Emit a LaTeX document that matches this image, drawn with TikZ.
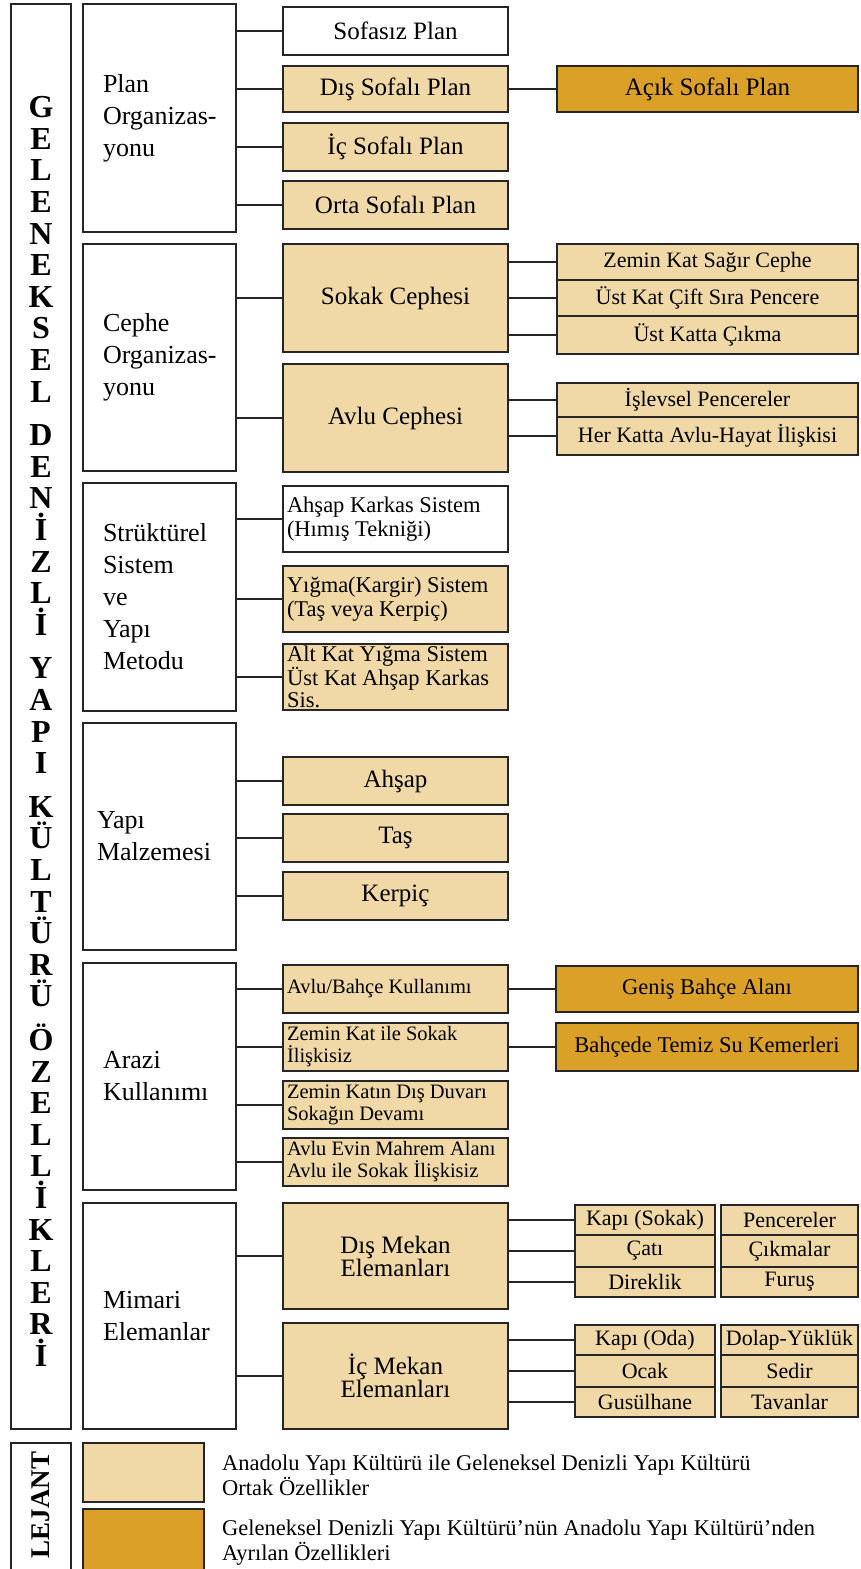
\documentclass[tikz,border=0pt]{standalone}
\usepackage{fontspec}
\setmainfont{Liberation Serif}
\definecolor{beige}{HTML}{F0D9A7}
\definecolor{gold}{HTML}{DAA028}
\definecolor{edge}{HTML}{262626}
\hyphenpenalty=10000
\exhyphenpenalty=10000
\newcommand\bx[7]{%
  \pgfmathsetmacro\bxcx{(#2+#4)/2}%
  \pgfmathsetmacro\bxcy{(#3+#5)/2}%
  \pgfmathsetmacro\bxw{#4-#2}%
  \pgfmathsetmacro\bxh{#5-#3}%
  \node[#6, minimum width=\bxw pt, minimum height=\bxh pt] (#1) at (\bxcx,\bxcy) {#7};}
\begin{document}
\begin{tikzpicture}[x=1pt,y=-1pt,
  box/.style={draw=edge, line width=1.8pt, inner sep=0pt, outer sep=0pt},
  lt/.style={box, fill=beige},
  dk/.style={box, fill=gold},
  wt/.style={box, fill=white},
  link/.style={draw=edge, line width=2pt},
  cat/.style={align=flush left, inner xsep=20pt, text width=113pt, font=\fontsize{26}{32}\selectfont},
  mid/.style={align=center, font=\fontsize{25}{23}\selectfont},
  mid2/.style={align=center, font=\fontsize{22.5}{24}\selectfont},
  sub/.style={align=center, font=\fontsize{22}{24}\selectfont},
  lsub/.style={align=flush left, inner xsep=4pt, text width=217pt, font=\fontsize{22.5}{24}\selectfont},
  asub/.style={align=flush left, inner xsep=4pt, text width=217pt, font=\fontsize{20.5}{22}\selectfont},
  legt/.style={anchor=north west, inner sep=0pt, align=left, font=\fontsize{22.5}{25}\selectfont}]
\useasboundingbox (0,0) rectangle (861,1569);
\fill[white] (0,0) rectangle (861,1569);

% left title column
\bx{title}{11}{4}{71}{1429}{wt}{}
\node[anchor=north, inner sep=0pt, align=center, font=\bfseries\fontsize{32}{31.6}\selectfont] (vtitle) at (41,96.2)
 {G\\E\\L\\E\\N\\E\\K\\S\\E\\L\\[12pt]D\\E\\N\\İ\\Z\\L\\İ\\[12pt]Y\\A\\P\\I\\[12pt]K\\Ü\\L\\T\\Ü\\R\\Ü\\[12pt]Ö\\Z\\E\\L\\L\\İ\\K\\L\\E\\R\\İ};

% Plan
\bx{plan}{83}{4}{236}{232}{wt,cat}{Plan\\Organizas-\\yonu}
\bx{sofasiz}{283}{7}{508}{55}{wt,mid}{Sofasız Plan}
\bx{dis}{283}{66}{508}{112}{lt,mid}{Dış Sofalı Plan}
\bx{ic}{283}{123}{508}{171}{lt,mid}{İç Sofalı Plan}
\bx{orta}{283}{181}{508}{229}{lt,mid}{Orta Sofalı Plan}
\bx{acik}{557}{66}{858}{112}{dk,mid}{Açık Sofalı Plan}

% Cephe
\bx{cephe}{83}{244}{236}{471}{wt,cat}{Cephe\\Organizas-\\yonu}
\bx{sokak}{283}{244}{508}{352}{lt,mid}{Sokak Cephesi}
\bx{avlu}{283}{364}{508}{472}{lt,mid}{Avlu Cephesi}
\bx{zemin}{557}{244}{858}{280}{lt,sub}{Zemin Kat Sağır Cephe}
\bx{ustcift}{557}{280}{858}{316}{lt,sub}{Üst Kat Çift Sıra Pencere}
\bx{cikma}{557}{316}{858}{354}{lt,sub}{Üst Katta Çıkma}
\bx{islev}{557}{383}{858}{417}{lt,sub}{İşlevsel Pencereler}
\bx{herkat}{557}{417}{858}{455}{lt,sub}{Her Katta Avlu-Hayat İlişkisi}

% Struktürel
\bx{strk}{83}{483}{236}{711}{wt,cat}{Strüktürel\\Sistem\\ve\\Yapı\\Metodu}
\bx{ahsapk}{283}{486}{508}{552}{wt,lsub}{Ahşap Karkas Sistem\\(Hımış Tekniği)}
\bx{yigma}{283}{566}{508}{632}{lt,lsub}{Yığma(Kargir) Sistem\\(Taş veya Kerpiç)}
\bx{altkat}{283}{644}{508}{710}{lt}{}
\node[legt, font=\fontsize{22.5}{22}\selectfont] (altkatt) at (287,646) {Alt Kat Yığma Sistem\\Üst Kat Ahşap Karkas\\Sis.};

% Malzeme
\bx{malz}{83}{723}{236}{950}{wt,cat,inner xsep=14pt,text width=125pt}{Yapı\\Malzemesi}
\bx{ahsap}{283}{757}{508}{805}{lt,mid}{Ahşap}
\bx{tas}{283}{814}{508}{862}{lt,mid}{Taş}
\bx{kerpic}{283}{872}{508}{920}{lt,mid}{Kerpiç}

% Arazi
\bx{arazi}{83}{963}{236}{1190}{wt,cat}{Arazi\\Kullanımı}
\bx{bahce}{283}{965}{508}{1013}{lt,asub}{Avlu/Bahçe Kullanımı}
\bx{zsokak}{283}{1023}{508}{1071}{lt,asub}{Zemin Kat ile Sokak\\İlişkisiz}
\bx{zdis}{283}{1081}{508}{1129}{lt,asub}{Zemin Katın Dış Duvarı\\Sokağın Devamı}
\bx{mahrem}{283}{1138}{508}{1186}{lt,asub}{Avlu Evin Mahrem Alanı\\Avlu ile Sokak İlişkisiz}
\bx{genis}{556}{966}{858}{1012}{dk,mid2}{Geniş Bahçe Alanı}
\bx{temiz}{556}{1023}{858}{1071}{dk,mid2}{Bahçede Temiz Su Kemerleri}

% Mimari
\bx{mimari}{83}{1203}{236}{1429}{wt,cat}{Mimari\\Elemanlar}
\bx{dism}{283}{1203}{508}{1309}{lt,mid}{Dış Mekan\\Elemanları}
\bx{icm}{283}{1323}{508}{1429}{lt,mid}{İç Mekan\\Elemanları}
\bx{kapis}{575}{1205}{715}{1235}{lt,sub}{Kapı (Sokak)}
\bx{cati}{575}{1235}{715}{1267}{lt,sub}{Çatı}
\bx{direk}{575}{1267}{715}{1297}{lt,sub}{Direklik}
\bx{pence}{721}{1205}{858}{1235}{lt,sub}{Pencereler}
\bx{cikmalar}{721}{1235}{858}{1267}{lt,sub}{Çıkmalar}
\bx{furus}{721}{1267}{858}{1297}{lt,sub}{Furuş}
\bx{kapio}{575}{1325}{715}{1355}{lt,sub}{Kapı (Oda)}
\bx{ocak}{575}{1355}{715}{1387}{lt,sub}{Ocak}
\bx{gusul}{575}{1387}{715}{1417}{lt,sub}{Gusülhane}
\bx{dolap}{721}{1325}{858}{1355}{lt,sub}{Dolap-Yüklük}
\bx{sedir}{721}{1355}{858}{1387}{lt,sub}{Sedir}
\bx{tavan}{721}{1387}{858}{1417}{lt,sub}{Tavanlar}

% connectors
\foreach \c in {sofasiz,dis,ic,orta} \draw[link] (plan.east |- \c.west) -- (\c.west);
\draw[link] (dis.east) -- (acik.west);
\foreach \c in {sokak,avlu} \draw[link] (cephe.east |- \c.west) -- (\c.west);
\foreach \c in {zemin,ustcift,cikma} \draw[link] (sokak.east |- \c.west) -- (\c.west);
\foreach \c in {islev,herkat} \draw[link] (avlu.east |- \c.west) -- (\c.west);
\foreach \c in {ahsapk,yigma,altkat} \draw[link] (strk.east |- \c.west) -- (\c.west);
\foreach \c in {ahsap,tas,kerpic} \draw[link] (malz.east |- \c.west) -- (\c.west);
\foreach \c in {bahce,zsokak,zdis,mahrem} \draw[link] (arazi.east |- \c.west) -- (\c.west);
\draw[link] (bahce.east) -- (bahce.east -| genis.west);
\draw[link] (zsokak.east) -- (zsokak.east -| temiz.west);
\foreach \c in {dism,icm} \draw[link] (mimari.east |- \c.west) -- (\c.west);
\foreach \c in {kapis,cati,direk} \draw[link] (dism.east |- \c.west) -- (\c.west);
\foreach \c in {kapio,ocak,gusul} \draw[link] (icm.east |- \c.west) -- (\c.west);

% legend
\bx{lejbox}{11}{1443}{71}{1585}{wt}{}
\node[rotate=90, inner sep=0pt, font=\bfseries\fontsize{27}{27}\selectfont] (lejant) at (41,1505) {LEJANT};
\bx{sw1}{83}{1443}{204}{1502}{lt}{}
\bx{sw2}{83}{1509}{204}{1585}{dk}{}
\node[legt] (leg1) at (222,1455) {Anadolu Yapı Kültürü ile Geleneksel Denizli Yapı Kültürü\\Ortak Özellikler};
\node[legt] (leg2) at (222,1520) {Geleneksel Denizli Yapı Kültürü’nün Anadolu Yapı Kültürü’nden\\Ayrılan Özellikleri};
\end{tikzpicture}
\end{document}
